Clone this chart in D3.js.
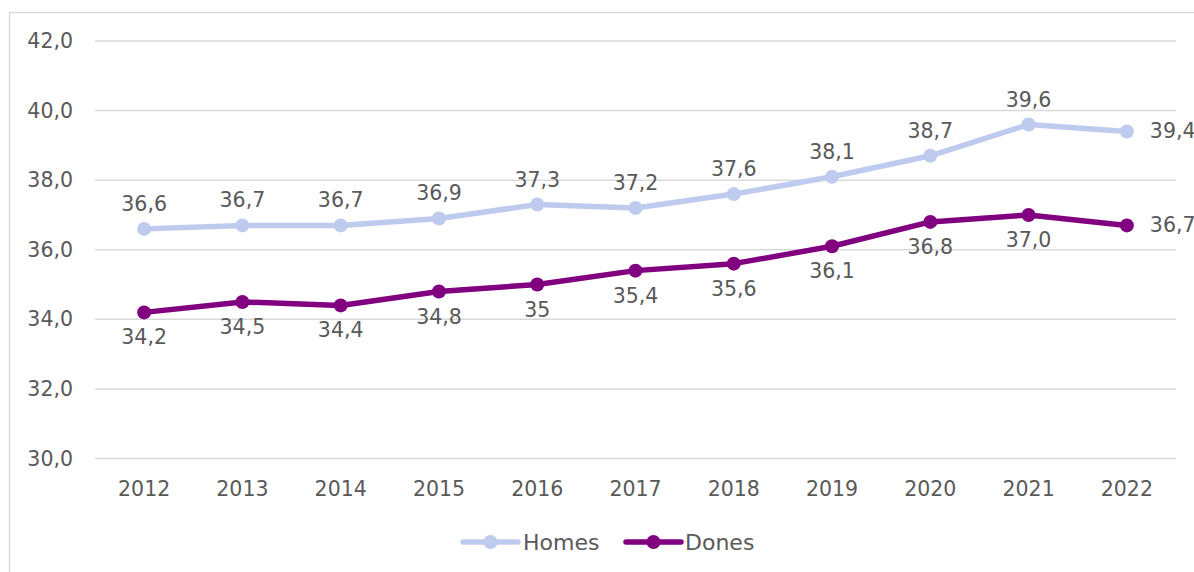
<!DOCTYPE html>
<html><head><meta charset="utf-8">
<script src="https://cdn.jsdelivr.net/npm/d3@7"></script>
<style>
html,body{margin:0;padding:0;background:#fff;}
svg text{font-family:"DejaVu Sans",sans-serif;fill:#595959;}
</style></head>
<body>
<svg id="c" width="1194" height="572"></svg>
<script>
const years = ["2012","2013","2014","2015","2016","2017","2018","2019","2020","2021","2022"];
const homes = [36.6,36.7,36.7,36.9,37.3,37.2,37.6,38.1,38.7,39.6,39.4];
const dones = [34.2,34.5,34.4,34.8,35,35.4,35.6,36.1,36.8,37.0,36.7];
const homesLabels = ["36,6","36,7","36,7","36,9","37,3","37,2","37,6","38,1","38,7","39,6","39,4"];
const donesLabels = ["34,2","34,5","34,4","34,8","35","35,4","35,6","36,1","36,8","37,0","36,7"];
const yTicks = [30,32,34,36,38,40,42];
const seriesNames = ["Homes","Dones"];
const colors = ["#BFCBEE","#800080"];

const svg = d3.select("#c");
const fmt = v => v.toFixed(1).replace(".", ",");

// outer chart border
svg.append("rect").attr("x",9.5).attr("y",12.5).attr("width",1200).attr("height",600)
  .attr("fill","none").attr("stroke","#D9D9D9").attr("stroke-width",1.5);

const x = d3.scaleBand().domain(years).range([95,1176]).padding(0);
const y = d3.scaleLinear().domain([30,42]).range([458.5,41]);
const cx = d => x(d) + x.bandwidth()/2;

// gridlines
svg.append("g").selectAll("line").data(yTicks).join("line")
  .attr("x1",95).attr("x2",1176)
  .attr("y1",d=>y(d)).attr("y2",d=>y(d))
  .attr("stroke","#D9D9D9").attr("stroke-width",1.5);

// y axis labels
const yAxis = d3.axisLeft(y).tickValues(yTicks).tickFormat(fmt).tickSize(0).tickPadding(0);
const gy = svg.append("g").attr("transform","translate(73,0)").call(yAxis);
gy.select(".domain").remove();
gy.selectAll("text").attr("font-size",20.5).attr("font-family","DejaVu Sans").attr("fill","#595959");

// x axis labels
const xAxis = d3.axisBottom(x).tickSize(0).tickPadding(0);
const gx = svg.append("g").attr("transform","translate(0,489)").call(xAxis);
gx.select(".domain").remove();
gx.selectAll("text").attr("font-size",20.5).attr("font-family","DejaVu Sans").attr("fill","#595959")
  .attr("dy","0.35em");

const line = d3.line().x((d,i)=>cx(years[i])).y(d=>y(d));
const data = [homes,dones];
const labels = [homesLabels,donesLabels];

data.forEach((vals,s)=>{
  svg.append("path").datum(vals).attr("d",line).attr("fill","none")
    .attr("stroke",colors[s]).attr("stroke-width",5.5).attr("stroke-linejoin","round");
  svg.append("g").selectAll("circle").data(vals).join("circle")
    .attr("cx",(d,i)=>cx(years[i])).attr("cy",d=>y(d)).attr("r",7).attr("fill",colors[s]);
  svg.append("g").selectAll("text").data(vals).join("text")
    .attr("x",(d,i)=> i===years.length-1 ? cx(years[i])+23 : cx(years[i]))
    .attr("y",(d,i)=> i===years.length-1 ? y(d) : (s===0 ? y(d)-25 : y(d)+25))
    .attr("text-anchor",(d,i)=> i===years.length-1 ? "start" : "middle")
    .attr("dominant-baseline","central")
    .attr("font-size",20.5)
    .text((d,i)=>labels[s][i]);
});

// legend
const legendItems = [{x:463,tx:523},{x:626,tx:685}];
legendItems.forEach((p,s)=>{
  const g = svg.append("g");
  g.append("line").attr("x1",p.x).attr("x2",p.x+55).attr("y1",542).attr("y2",542)
    .attr("stroke",colors[s]).attr("stroke-width",5.5).attr("stroke-linecap","round");
  g.append("circle").attr("cx",p.x+27.5).attr("cy",542).attr("r",7).attr("fill",colors[s]);
  g.append("text").attr("x",p.tx).attr("y",542).attr("dominant-baseline","central")
    .attr("font-size",22).text(seriesNames[s]);
});
</script>
</body></html>
